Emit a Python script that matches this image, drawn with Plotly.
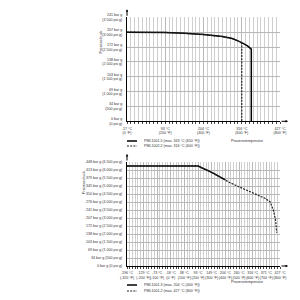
import plotly.graph_objects as go

# ---------- data ----------
# top chart (temperature in °F, pressure in psi g)
top_solid_name = "PML1001-5 (max. 343 °C (650 °F))"
top_solid_t = [0, 200, 300, 400, 500, 550, 600, 630, 650, 650]
top_solid_p = [3000, 2990, 2960, 2920, 2850, 2790, 2650, 2540, 2430, 0]
top_dash_name = "PML1002-2 (max. 316 °C (600 °F))"
top_dash_t = [0, 200, 300, 400, 500, 550, 590, 600, 600]
top_dash_p = [3000, 2990, 2960, 2920, 2850, 2780, 2680, 2620, 0]

top_xticks = [0, 200, 400, 600, 800]
top_xlabels = ["-17 °C<br>(0 °F)", "93 °C<br>(200 °F)", "204 °C<br>(400 °F)",
               "316 °C<br>(600 °F)", "427 °C<br>(800 °F)"]
top_yticks = [0, 500, 1000, 1500, 2000, 2500, 3000, 3500]
top_ylabels = ["0 bar g<br>(0 psi g)", "34 bar g<br>(500 psi g)", "69 bar g<br>(1 000 psi g)",
               "103 bar g<br>(1 500 psi g)", "138 bar g<br>(2 000 psi g)",
               "172 bar g<br>(2 500 psi g)", "207 bar g<br>(3 000 psi g)",
               "241 bar g<br>(3 500 psi g)"]

# bottom chart
bot_solid_name = "PML1001-3 (max. 204 °C (400 °F))"
bot_solid_t = [-320, 200, 300, 400]
bot_solid_p = [6250, 6250, 5850, 5380]
bot_dash_name = "PML1001-2 (max. 427 °C (800 °F))"
bot_dash_t = [-320, 200, 300, 400, 434, 550, 690, 727, 751, 768, 776]
bot_dash_p = [6250, 6250, 5850, 5380, 5206, 4760, 4230, 4020, 3500, 2875, 2080]

bot_xticks = [-320, -200, -100, 0, 100, 200, 300, 400, 500, 600, 700, 800]
bot_xlabels = ["-196 °C<br>(-320 °F)", "-129 °C<br>(-200 °F)", "-73 °C<br>(-100 °F)",
               "-18 °C<br>(0 °F)", "38 °C<br>(100 °F)", "93 °C<br>(200 °F)",
               "149 °C<br>(300 °F)", "204 °C<br>(400 °F)", "260 °C<br>(500 °F)",
               "316 °C<br>(600 °F)", "371 °C<br>(700 °F)", "427 °C<br>(800 °F)"]
bot_yticks = list(range(0, 7000, 500))
bot_ylabels = ["0 bar g (0 psi g)", "34 bar g (500 psi g)", "69 bar g (1 000 psi g)",
               "103 bar g (1 500 psi g)", "138 bar g (2 000 psi g)",
               "172 bar g (2 500 psi g)", "207 bar g (3 000 psi g)",
               "241 bar g (3 500 psi g)", "276 bar g (4 000 psi g)",
               "310 bar g (4 500 psi g)", "345 bar g (5 000 psi g)",
               "379 bar g (5 500 psi g)", "413 bar g (6 000 psi g)",
               "448 bar g (6 500 psi g)"]

y_title = "Prozessdruck"
x_title = "Prozesstemperatur"

# ---------- figure ----------
FONT = "Liberation Sans, Arial, sans-serif"
W = H = 300
TXT = "#333"
fig = go.Figure()

solid_style = dict(color="black", width=1.5)
dash_style = dict(color="#222", width=1.2, dash="2px,1.2px")

fig.add_trace(go.Scatter(x=top_solid_t, y=top_solid_p, mode="lines", name=top_solid_name,
                         line=solid_style, xaxis="x", yaxis="y"))
fig.add_trace(go.Scatter(x=top_dash_t, y=top_dash_p, mode="lines", name=top_dash_name,
                         line=dash_style, xaxis="x", yaxis="y"))
fig.add_trace(go.Scatter(x=bot_solid_t, y=bot_solid_p, mode="lines", name=bot_solid_name,
                         line=solid_style, xaxis="x2", yaxis="y2"))
fig.add_trace(go.Scatter(x=bot_dash_t, y=bot_dash_p, mode="lines", name=bot_dash_name,
                         line=dash_style, xaxis="x2", yaxis="y2"))

xl, xr = 127 / W, 280 / W
top_dom = [1 - 121.3 / H, 1 - 17.3 / H]
bot_dom = [1 - 266 / H, 1 - 162 / H]

tickfont = dict(family=FONT, size=3.6, color=TXT)
grid = "#b8b8b8"

def xaxis(dom_anchor, rng, tv, tt):
    return dict(domain=[xl, xr], anchor=dom_anchor, range=rng, tickvals=tv, ticktext=tt,
                tickangle=0, automargin=False,
                showgrid=True, gridcolor=grid, gridwidth=1,
                minor=dict(dtick=20, tick0=0, showgrid=True, gridcolor="#cfcfcf",
                           gridwidth=1, ticks="outside", ticklen=1.5, tickcolor="#444"),
                ticks="outside", ticklen=2, tickcolor="#444",
                showline=True, linecolor="black", linewidth=1,
                zeroline=False, tickfont=tickfont, ticklabelstandoff=1, fixedrange=True)

def yaxis(dom, anchor, rng, tv, tt):
    return dict(domain=dom, anchor=anchor, range=rng, tickvals=tv, ticktext=tt,
                automargin=False,
                showgrid=True, gridcolor=grid, gridwidth=1, ticks="",
                showline=True, linecolor="black", linewidth=1,
                zeroline=False, tickfont=tickfont, ticklabelstandoff=3, fixedrange=True)

fig.update_layout(
    width=W, height=H, margin=dict(l=0, r=0, t=0, b=0),
    paper_bgcolor="white", plot_bgcolor="white",
    font=dict(family=FONT, size=4, color=TXT),
    xaxis=xaxis("y", [0, 800], top_xticks, top_xlabels),
    yaxis=yaxis(top_dom, "x", [0, 3500], top_yticks, top_ylabels),
    xaxis2=xaxis("y2", [-320, 800], bot_xticks, bot_xlabels),
    yaxis2=yaxis(bot_dom, "x2", [0, 6500], bot_yticks, bot_ylabels),
    showlegend=False,
)

# legends (drawn as key lines + text under each chart)
legend_rows = [
    (141, solid_style, top_solid_name), (146, dash_style, top_dash_name),
    (285, solid_style, bot_solid_name), (291, dash_style, bot_dash_name),
]
for (py, st, name) in legend_rows:
    fig.add_shape(type="line", xref="paper", yref="paper",
                  x0=127 / W, x1=137 / W, y0=1 - py / H, y1=1 - py / H,
                  line=dict(color=st["color"], width=st["width"], dash=st.get("dash", "solid")))
    fig.add_annotation(x=142 / W, y=1 - py / H, xref="paper", yref="paper", text=name,
                       xanchor="left", yanchor="middle", showarrow=False,
                       font=dict(family=FONT, size=3.6, color=TXT))

# axis titles
for (ax, ay) in [(96 / W, 1 - 29 / H), (80 / W, 1 - 183 / H)]:
    fig.add_annotation(x=ax, y=ay, xref="paper", yref="paper", text=y_title,
                       textangle=-90, showarrow=False,
                       font=dict(family=FONT, size=3.8, color=TXT))
for ay in [1 - 141 / H, 1 - 286 / H]:
    fig.add_annotation(x=266 / W, y=ay, xref="paper", yref="paper", text=x_title,
                       showarrow=False, font=dict(family=FONT, size=3.8, color=TXT))

# axis arrows (decoration)
for dom in [top_dom, bot_dom]:
    fig.add_annotation(x=xl, y=dom[1] + 8 / H, ax=0, ay=8, xref="paper", yref="paper",
                       axref="pixel", ayref="pixel", showarrow=True, arrowhead=2,
                       arrowsize=0.5, arrowwidth=1, arrowcolor="black", text="")
    fig.add_annotation(x=xr + 8 / W, y=dom[0], ax=-8, ay=0, xref="paper", yref="paper",
                       axref="pixel", ayref="pixel", showarrow=True, arrowhead=2,
                       arrowsize=0.5, arrowwidth=1, arrowcolor="black", text="")

fig.write_html("out.html")
